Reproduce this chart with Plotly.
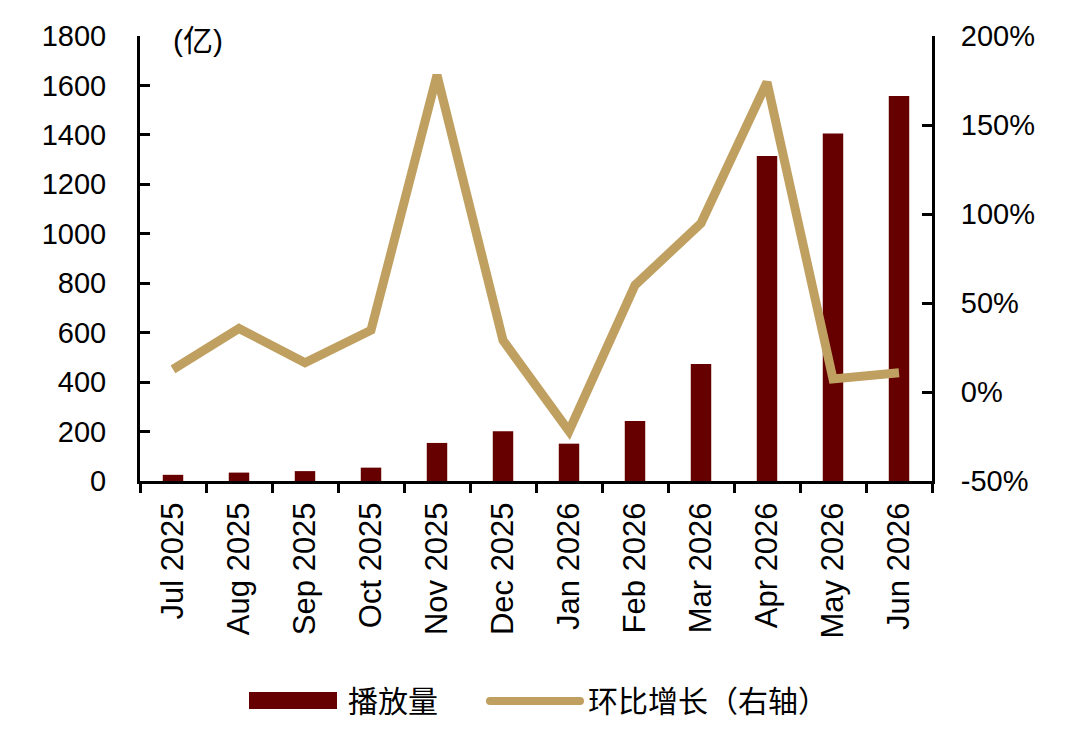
import plotly.graph_objects as go

# 月份
MONTHS = [
    "Jul 2025", "Aug 2025", "Sep 2025", "Oct 2025", "Nov 2025", "Dec 2025",
    "Jan 2026", "Feb 2026", "Mar 2026", "Apr 2026", "May 2026", "Jun 2026",
]
# 播放量（亿）
PLAYS = [25, 34, 40, 54, 154, 201, 151, 243, 473, 1315, 1406, 1557]
# 环比增长（%）
MOM = [12.7, 35.7, 16.4, 34.7, 178, 29, -22, 60, 94.8, 174, 7.3, 10.8]
# 右轴刻度
PCT_TICKS = [-50, 0, 50, 100, 150, 200]

BAR_COLOR = "#660000"
LINE_COLOR = "#C0A060"
FONT = "Liberation Sans, Arial, Noto Sans CJK SC"

# 页面有 8px 的 body 边距，这里用截图坐标减去 8
OFF = 8
W, H = 1080 - 2 * OFF, 732 - 2 * OFF
L, R, T, B = 140 - OFF, 932 - OFF, 36 - OFF, 481 - OFF


def px(x, y):
    # 截图像素 -> paper 坐标
    x, y = x - OFF, y - OFF
    return (x - L) / (R - L), (B - y) / (B - T)


def main():
    fig = go.Figure()

    fig.add_trace(
        go.Bar(
            x=MONTHS,
            y=PLAYS,
            width=0.31,
            marker_color=BAR_COLOR,
            marker_line_width=0,
            name="播放量",
        )
    )

    fig.add_trace(
        go.Scatter(
            x=MONTHS,
            y=MOM,
            yaxis="y2",
            mode="lines",
            line=dict(color=LINE_COLOR, width=9),
            name="环比增长（右轴）",
        )
    )

    fig.update_xaxes(
        tickangle=-90,
        ticks="outside",
        tickson="boundaries",
        ticklen=9,
        tickwidth=2.5,
        tickcolor="black",
        ticklabelstandoff=6,
        showline=True,
        linewidth=3,
        linecolor="black",
        showgrid=False,
        tickfont=dict(size=31, color="black"),
    )

    fig.update_layout(
        yaxis=dict(
            range=[0, 1800],
            dtick=200,
            ticks="inside",
            ticklen=10,
            tickwidth=2.5,
            tickcolor="black",
            ticklabelstandoff=25,
            showline=True,
            linewidth=3,
            linecolor="black",
            showgrid=False,
            zeroline=False,
            tickfont=dict(size=29, color="black"),
        ),
        yaxis2=dict(
            range=[-50, 200],
            tickvals=PCT_TICKS,
            ticktext=[f"{v}%" for v in PCT_TICKS],
            overlaying="y",
            side="right",
            ticks="inside",
            ticklen=10,
            tickwidth=2.5,
            tickcolor="black",
            ticklabelstandoff=20,
            showline=True,
            linewidth=3,
            linecolor="black",
            showgrid=False,
            zeroline=False,
            tickfont=dict(size=29, color="black"),
        ),
        showlegend=False,
        width=W,
        height=H,
        margin=dict(l=L, r=W - R, t=T, b=H - B),
        plot_bgcolor="white",
        paper_bgcolor="white",
        font=dict(family=FONT, color="black", size=30),
    )

    # 单位
    ux, uy = px(171, 40)
    fig.add_annotation(
        x=ux, y=uy, xref="paper", yref="paper", xanchor="left", yanchor="middle",
        text="(亿)", showarrow=False, font=dict(size=30),
    )

    # 图例（手动绘制）
    x0, y0 = px(249, 692)
    x1, y1 = px(337, 709)
    fig.add_shape(
        type="rect", xref="paper", yref="paper", x0=x0, y0=y0, x1=x1, y1=y1,
        fillcolor=BAR_COLOR, line_width=0,
    )
    tx, ty = px(346, 701)
    fig.add_annotation(
        x=tx, y=ty, xref="paper", yref="paper", xanchor="left", yanchor="middle",
        text="播放量", showarrow=False, font=dict(size=30),
    )
    lx0, ly = px(490, 701)
    lx1, _ = px(580, 701)
    fig.add_shape(
        type="line", xref="paper", yref="paper", x0=lx0, y0=ly, x1=lx1, y1=ly,
        line=dict(color=LINE_COLOR, width=8),
    )
    for cx in (lx0, lx1):
        fig.add_shape(
            type="circle", xref="paper", yref="paper",
            xsizemode="pixel", ysizemode="pixel",
            xanchor=cx, yanchor=ly, x0=-4, x1=4, y0=-4, y1=4,
            fillcolor=LINE_COLOR, line_width=0,
        )
    tx2, _ = px(586, 701)
    fig.add_annotation(
        x=tx2, y=ty, xref="paper", yref="paper", xanchor="left", yanchor="middle",
        text="环比增长（右轴）", showarrow=False, font=dict(size=30),
    )

    fig.write_html("out.html")


if __name__ == "__main__":
    main()
